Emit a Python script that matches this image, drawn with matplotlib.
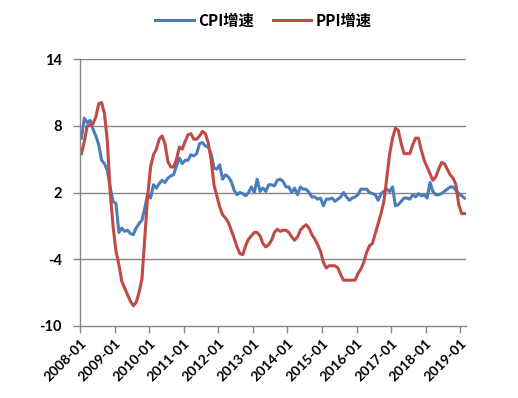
import matplotlib
matplotlib.use("Agg")
import matplotlib.pyplot as plt
import numpy as np

years = list(range(2008, 2020))
tick_labels = [f"{y}-01" for y in years]

cpi = [6.9, 8.7, 8.3, 8.5, 7.7, 7.1, 6.3, 4.9, 4.6, 4.0, 2.4, 1.2,
       1.0, -1.6, -1.2, -1.5, -1.4, -1.7, -1.8, -1.2, -0.8, -0.5, 0.6, 1.9,
       1.5, 2.7, 2.4, 2.8, 3.1, 2.9, 3.3, 3.5, 3.6, 4.4, 5.1, 4.6,
       4.9, 4.9, 5.4, 5.3, 5.5, 6.4, 6.5, 6.2, 6.1, 5.5, 4.2, 4.1,
       4.5, 3.2, 3.6, 3.4, 3.0, 2.2, 1.8, 2.0, 1.9, 1.7, 2.0, 2.5,
       2.0, 3.2, 2.1, 2.4, 2.1, 2.7, 2.7, 2.6, 3.1, 3.2, 3.0, 2.5,
       2.5, 2.0, 2.4, 1.8, 2.5, 2.3, 2.3, 2.0, 1.6, 1.6, 1.4, 1.5,
       0.8, 1.4, 1.4, 1.5, 1.2, 1.4, 1.6, 2.0, 1.6, 1.3, 1.5, 1.6,
       1.8, 2.3, 2.3, 2.3, 2.0, 1.9, 1.8, 1.3, 1.9, 2.1, 2.3, 2.1,
       2.5, 0.8, 0.9, 1.2, 1.5, 1.5, 1.4, 1.8, 1.6, 1.9, 1.7, 1.8,
       1.5, 2.9, 2.1, 1.8, 1.8, 1.9, 2.1, 2.3, 2.5, 2.5, 2.2, 1.9,
       1.7, 1.5]

ppi = [5.5, 6.6, 8.0, 8.1, 8.2, 8.8, 10.0, 10.1, 9.1, 6.6, 2.0, -1.1,
       -3.3, -4.5, -6.0, -6.6, -7.2, -7.8, -8.2, -7.9, -7.0, -5.8, -2.1, 1.7,
       4.3, 5.4, 5.9, 6.8, 7.1, 6.4, 4.8, 4.3, 4.3, 5.0, 6.1, 5.9,
       6.6, 7.2, 7.3, 6.8, 6.8, 7.1, 7.5, 7.3, 6.5, 5.0, 2.7, 1.7,
       0.7, 0.0, -0.3, -0.7, -1.4, -2.1, -2.9, -3.5, -3.6, -2.8, -2.2, -1.9,
       -1.6, -1.6, -1.9, -2.6, -2.9, -2.7, -2.3, -1.6, -1.3, -1.5, -1.4, -1.4,
       -1.6, -2.0, -2.3, -2.0, -1.4, -1.1, -0.9, -1.2, -1.8, -2.2, -2.7, -3.3,
       -4.3, -4.8, -4.6, -4.6, -4.6, -4.8, -5.4, -5.9, -5.9, -5.9, -5.9, -5.9,
       -5.3, -4.9, -4.3, -3.4, -2.8, -2.6, -1.7, -0.8, 0.1, 1.2, 3.3, 5.5,
       6.9, 7.8, 7.6, 6.4, 5.5, 5.5, 5.5, 6.3, 6.9, 6.9, 5.8, 4.9,
       4.3, 3.7, 3.1, 3.4, 4.1, 4.7, 4.6, 4.1, 3.6, 3.3, 2.7, 0.9,
       0.1, 0.1]

yticks = [14, 8, 2, -4, -10]

blue = "#4A7EBB"
red = "#BE4B48"
grey = "#868686"

fig = plt.figure(figsize=(5.18, 3.98), dpi=100)
ax = fig.add_axes([80/518, 1-325.7/398, (466-80)/518, (325.7-59.3)/398])

n = len(cpi)
x = np.arange(n) + 0.5
l1, = ax.plot(x, cpi, color=blue, lw=2.2, label="CPI增速", solid_joinstyle="round")
l2, = ax.plot(x, ppi, color=red, lw=2.2, label="PPI增速", solid_joinstyle="round")

ax.set_xlim(0, n)
ax.set_ylim(-10, 14)
ax.set_yticks(yticks)
ax.set_xticks(np.arange(0, n, 12))

fontfam = ["Lato", "Noto Sans CJK SC", "DejaVu Sans"]
ax.set_yticklabels([str(v) for v in yticks], fontsize=10.5, fontweight="bold", family=fontfam)
ax.set_xticklabels(tick_labels, rotation=45, ha="right", va="top",
                   rotation_mode="anchor", fontsize=10, fontweight="bold", family=fontfam)

for v in yticks[:-1]:
    ax.axhline(v, color=grey, lw=1.0, zorder=0)

for s in ["top", "right"]:
    ax.spines[s].set_visible(False)
for s in ["left", "bottom"]:
    ax.spines[s].set_color(grey)
    ax.spines[s].set_linewidth(1.0)
ax.tick_params(axis="both", colors=grey, length=5, width=1.0, labelcolor="black")
ax.tick_params(axis="y", pad=8)
ax.tick_params(axis="x", pad=3)

leg = fig.legend(handles=[l1, l2], loc="center", bbox_to_anchor=(0.509, 0.948), ncol=2,
                 frameon=False, prop={"family": ["Noto Sans CJK SC", "DejaVu Sans"], "weight": "bold", "size": 11},
                 handlelength=2.5, columnspacing=1.2, handletextpad=0.33)

fig.savefig("out.png", dpi=100)
